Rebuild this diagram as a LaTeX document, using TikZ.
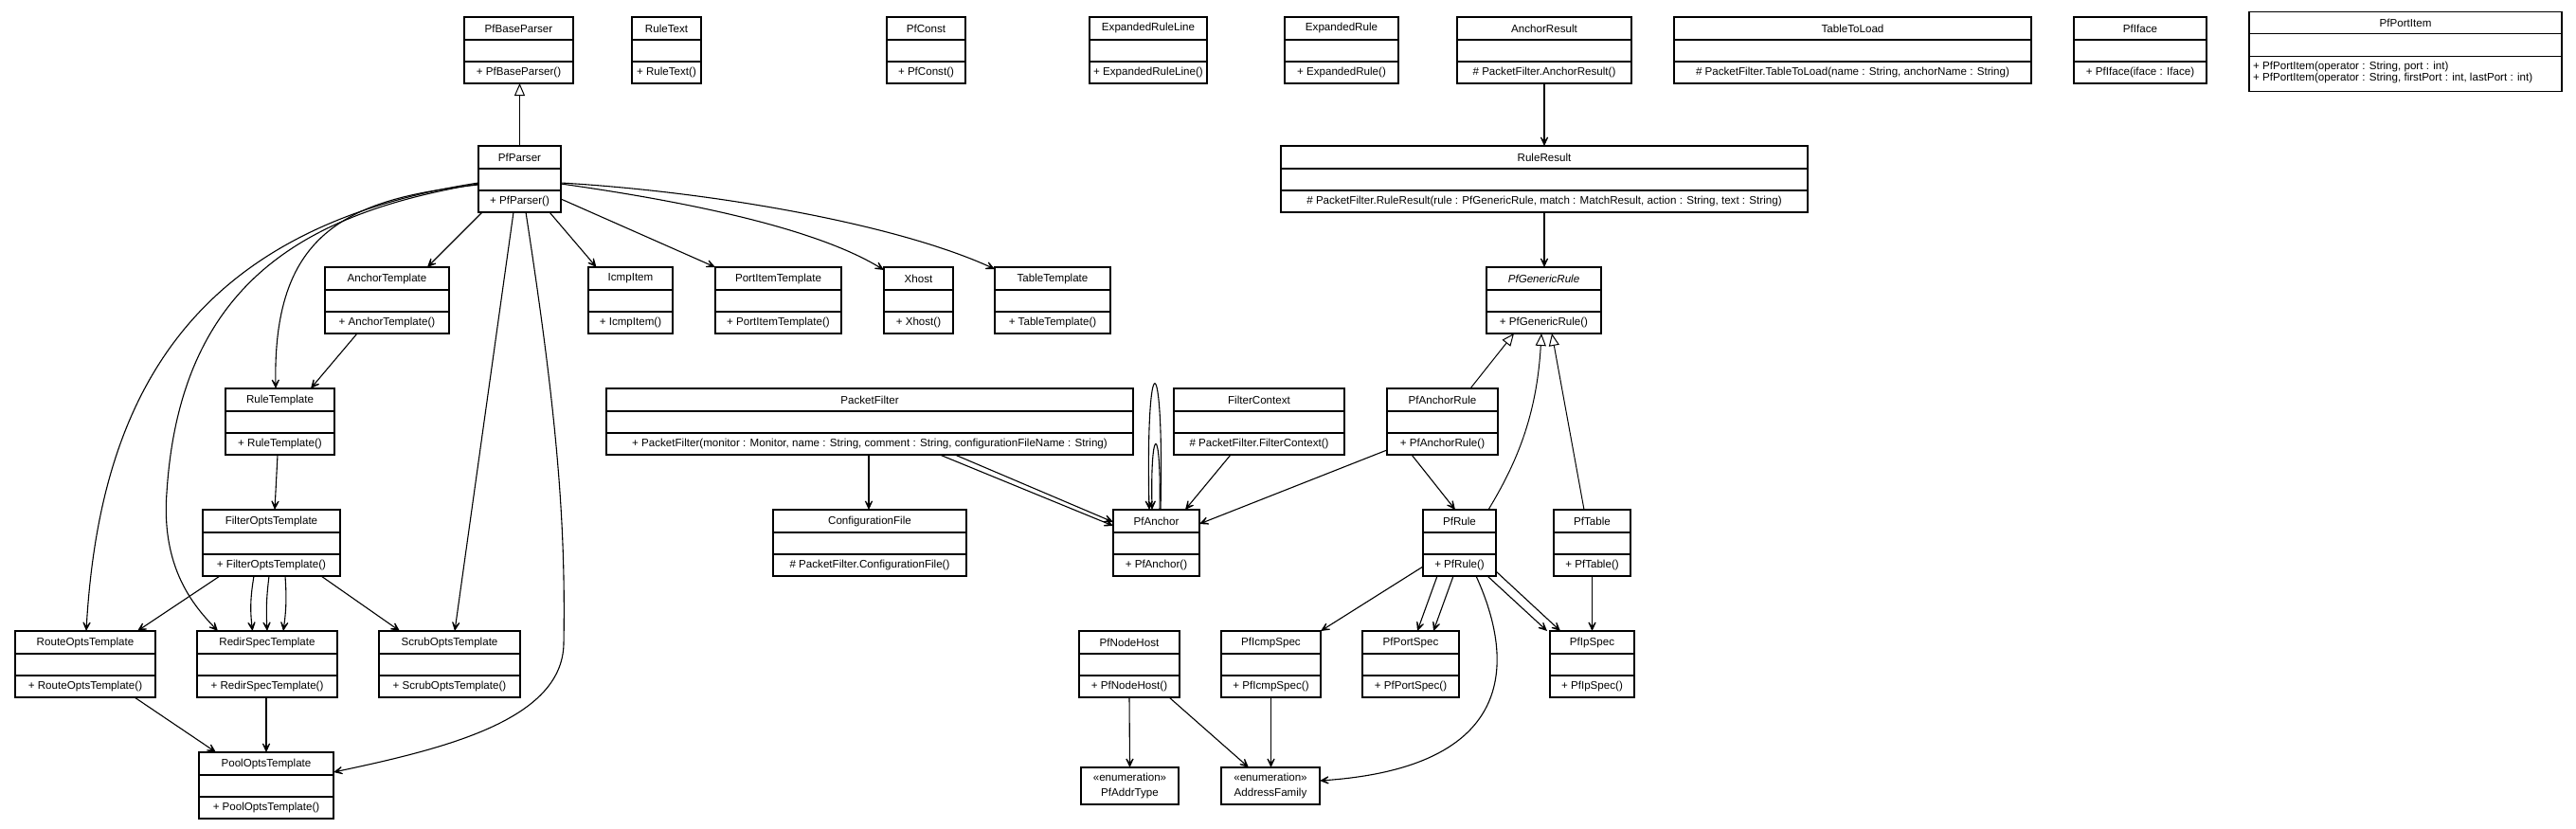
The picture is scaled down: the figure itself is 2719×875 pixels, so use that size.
\documentclass[tikz,border=0pt]{standalone}
\usepackage{fontspec}
\setmainfont{Liberation Sans}
\usetikzlibrary{arrows.meta}
\newcommand\clsfont{\fontsize{11.6}{13}\selectfont}
\tikzset{
  clsbox/.style={draw, line width=1.3pt, inner sep=0pt, outer sep=0pt, fill=white},
  clsline/.style={line width=1.1pt},
  clstext/.style={inner sep=0pt, font=\clsfont},
  assoc/.style={line width=1.1pt, -{Stealth[length=14pt,width=13pt,inset=9pt]}},
  gen/.style={line width=1pt, -{Triangle[open,length=13pt,width=11pt,fill=white]}},
}
% #1 name, #2 x, #3 y, #4 width, #5 title, #6 operation
\newcommand\umlcls[6]{%
  \node[clsbox, minimum width=#4pt, minimum height=70pt, anchor=north west] (#1) at (#2,#3) {};
  \draw[clsline] ([yshift=-24pt]#1.north west) -- ([yshift=-24pt]#1.north east);
  \draw[clsline] ([yshift=-47pt]#1.north west) -- ([yshift=-47pt]#1.north east);
  \node[clstext] (#1-title) at ([yshift=-12pt]#1.north) {#5};
  \node[clstext] (#1-op) at ([yshift=-58.5pt]#1.north) {#6};
}
\newcommand\umlenum[5]{%
  \node[clsbox, minimum width=#4pt, minimum height=39pt, anchor=north west] (#1) at (#2,#3) {};
  \node[clstext, align=center, font=\fontsize{11.6}{15.5}\selectfont] (#1-text) at (#1.center) {«enumeration»\\#5};
}
\begin{document}
\begin{tikzpicture}[x=1pt,y=-1pt]
\useasboundingbox (0,0) rectangle (2719,875);
% row 1
\umlcls{pfbaseparser}{490}{18}{115}{PfBaseParser}{+ PfBaseParser()}
\umlcls{ruletext}{667}{18}{73}{RuleText}{+ RuleText()}
\umlcls{pfconst}{936}{18}{83}{PfConst}{+ PfConst()}
\umlcls{expandedruleline}{1150}{18}{124}{ExpandedRuleLine}{+ ExpandedRuleLine()}
\umlcls{expandedrule}{1356}{18}{120}{ExpandedRule}{+ ExpandedRule()}
\umlcls{anchorresult}{1538}{18}{184}{AnchorResult}{\# PacketFilter.AnchorResult()}
\umlcls{tabletoload}{1767}{18}{377}{TableToLoad}{\# PacketFilter.TableToLoad(name : String, anchorName : String)}
\umlcls{pfiface}{2189}{18}{140}{PfIface}{+ PfIface(iface : Iface)}
% PfPortItem (two operations)
\node[clsbox, minimum width=330pt, minimum height=84pt, anchor=north west] (pfportitem) at (2374,12.7) {};
\draw[clsline] ([yshift=-22.6pt]pfportitem.north west) -- ([yshift=-22.6pt]pfportitem.north east);
\draw[clsline] ([yshift=-46.6pt]pfportitem.north west) -- ([yshift=-46.6pt]pfportitem.north east);
\node[clstext] (pfportitem-title) at ([yshift=-11.3pt]pfportitem.north) {PfPortItem};
\node[clstext, align=left, anchor=west, font=\fontsize{11.6}{12}\selectfont] (pfportitem-op) at ([xshift=4pt,yshift=-64pt]pfportitem.north west) {+ PfPortItem(operator : String, port : int)\\+ PfPortItem(operator : String, firstPort : int, lastPort : int)};
% row 2
\umlcls{pfparser}{505}{154}{87}{PfParser}{+ PfParser()}
\umlcls{ruleresult}{1352}{154}{556}{RuleResult}{\# PacketFilter.RuleResult(rule : PfGenericRule, match : MatchResult, action : String, text : String)}
% row 3
\umlcls{anchortemplate}{343}{282}{131}{AnchorTemplate}{+ AnchorTemplate()}
\umlcls{icmpitem}{621}{282}{89}{IcmpItem}{+ IcmpItem()}
\umlcls{portitemtemplate}{755}{282}{133}{PortItemTemplate}{+ PortItemTemplate()}
\umlcls{xhost}{933}{282}{73}{Xhost}{+ Xhost()}
\umlcls{tabletemplate}{1050}{282}{122}{TableTemplate}{+ TableTemplate()}
\umlcls{pfgenericrule}{1569}{282}{121}{\textit{PfGenericRule}}{+ PfGenericRule()}
% row 4
\umlcls{ruletemplate}{238}{410}{115}{RuleTemplate}{+ RuleTemplate()}
\umlcls{packetfilter}{640}{410}{556}{PacketFilter}{+ PacketFilter(monitor : Monitor, name : String, comment : String, configurationFileName : String)}
\umlcls{filtercontext}{1239}{410}{180}{FilterContext}{\# PacketFilter.FilterContext()}
\umlcls{pfanchorrule}{1464}{410}{117}{PfAnchorRule}{+ PfAnchorRule()}
% row 5
\umlcls{filteropts}{214}{538}{145}{FilterOptsTemplate}{+ FilterOptsTemplate()}
\umlcls{configfile}{816}{538}{204}{ConfigurationFile}{\# PacketFilter.ConfigurationFile()}
\umlcls{pfanchor}{1175}{538}{91}{PfAnchor}{+ PfAnchor()}
\umlcls{pfrule}{1502}{538}{77}{PfRule}{+ PfRule()}
\umlcls{pftable}{1640}{538}{81}{PfTable}{+ PfTable()}
% row 6
\umlcls{routeopts}{16}{666}{148}{RouteOptsTemplate}{+ RouteOptsTemplate()}
\umlcls{redirspec}{208}{666}{148}{RedirSpecTemplate}{+ RedirSpecTemplate()}
\umlcls{scrubopts}{400}{666}{149}{ScrubOptsTemplate}{+ ScrubOptsTemplate()}
\umlcls{pfnodehost}{1139}{666}{106}{PfNodeHost}{+ PfNodeHost()}
\umlcls{pficmpspec}{1289}{666}{105}{PfIcmpSpec}{+ PfIcmpSpec()}
\umlcls{pfportspec}{1438}{666}{102}{PfPortSpec}{+ PfPortSpec()}
\umlcls{pfipspec}{1636}{666}{89}{PfIpSpec}{+ PfIpSpec()}
% row 7
\umlcls{poolopts}{210}{794}{142}{PoolOptsTemplate}{+ PoolOptsTemplate()}
\umlenum{pfaddrtype}{1141}{810}{103}{PfAddrType}
\umlenum{addressfamily}{1289}{810}{104}{AddressFamily}

% generalizations
\draw[gen] (pfparser.north) -- (pfparser.north |- pfbaseparser.south);
\draw[gen] ([xshift=88pt]pfanchorrule.north west) -- ([xshift=29pt]pfgenericrule.south west);
\draw[gen] ([xshift=69pt]pfrule.north west) .. controls (1600,490) and (1622,440) .. ([xshift=58pt]pfgenericrule.south west);
\draw[gen] ([xshift=32pt]pftable.north west) -- ([xshift=69pt]pfgenericrule.south west);

% associations
\draw[assoc] (anchorresult.south) -- (anchorresult.south |- ruleresult.north);
\draw[assoc] (ruleresult.south) -- (ruleresult.south |- pfgenericrule.north);
\draw[assoc] ([xshift=4pt]pfparser.south west) -- ([xshift=108pt]anchortemplate.north west);
\draw[assoc] ([xshift=-12pt]pfparser.south east) -- ([xshift=8.5pt]icmpitem.north west);
\draw[assoc] ([yshift=-56pt]pfparser.north east) -- (portitemtemplate.north west);
\draw[assoc] ([yshift=-40pt]pfparser.north east) .. controls (720,212) and (860,240) .. ([yshift=-3pt]xhost.north west);
\draw[assoc] ([yshift=-39pt]pfparser.north east) .. controls (760,203) and (950,238) .. ([yshift=-2pt]tabletemplate.north west);
\draw[assoc] ([yshift=-41pt]pfparser.north west) .. controls (360,210) and (288,250) .. ([xshift=53pt]ruletemplate.north west);
\draw[assoc] ([yshift=-39pt]pfparser.north west) .. controls (200,240) and (105,420) .. ([xshift=75pt]routeopts.north west);
\draw[assoc] ([yshift=-40pt]pfparser.north west) .. controls (320,225) and (190,300) .. (176,520) .. controls (170,600) and (205,640) .. ([xshift=22pt]redirspec.north west);
\draw[assoc] ([xshift=37pt]pfparser.south west) -- ([xshift=80pt]scrubopts.north west);
\draw[assoc] ([xshift=50pt]pfparser.south west) .. controls (590,450) and (597,560) .. (595,680) .. controls (593,760) and (470,790) .. ([yshift=-21pt]poolopts.north east);
\draw[assoc] ([xshift=34pt]anchortemplate.south west) -- ([xshift=90pt]ruletemplate.north west);
\draw[assoc] ([xshift=55pt]ruletemplate.south west) -- ([xshift=76pt]filteropts.north west);
\draw[assoc] ([xshift=18pt]filteropts.south west) -- ([xshift=129pt]routeopts.north west);
\draw[assoc] ([xshift=54pt]filteropts.south west) to[bend right=8] ([xshift=58.5pt]redirspec.north west);
\draw[assoc] ([xshift=70pt]filteropts.south west) to[bend right=5] ([xshift=74pt]redirspec.north west);
\draw[assoc] ([xshift=87pt]filteropts.south west) to[bend left=6] ([xshift=91pt]redirspec.north west);
\draw[assoc] ([xshift=125pt]filteropts.south west) -- ([xshift=22pt]scrubopts.north west);
\draw[assoc] ([xshift=126pt]routeopts.south west) -- ([xshift=18pt]poolopts.north west);
\draw[assoc] ([xshift=73pt]redirspec.south west) -- ([xshift=71pt]poolopts.north west);
\draw[assoc] ([xshift=277pt]packetfilter.south west) -- ([xshift=101pt]configfile.north west);
\draw[assoc] ([xshift=352pt]packetfilter.south west) -- ([yshift=-17pt]pfanchor.north west);
\draw[assoc] ([xshift=368pt]packetfilter.south west) -- ([yshift=-13pt]pfanchor.north west);
\draw[assoc] ([xshift=60pt]filtercontext.south west) -- ([xshift=76pt]pfanchor.north west);
\draw[assoc] ([yshift=-65pt]pfanchorrule.north west) -- ([yshift=-15pt]pfanchor.north east);
\draw[assoc] ([xshift=50pt]pfanchor.north west) .. controls (1229,361) and (1209,361) .. ([xshift=38pt]pfanchor.north west);
\draw[assoc] ([xshift=49pt]pfanchor.north west) .. controls (1226,446) and (1214,446) .. ([xshift=41pt]pfanchor.north west);
\draw[assoc] ([xshift=26pt]pfanchorrule.south west) -- ([xshift=34pt]pfrule.north west);
\draw[assoc] ([yshift=-60pt]pfrule.north west) -- (pficmpspec.north east);
\draw[assoc] ([xshift=15pt]pfrule.south west) -- ([xshift=58pt]pfportspec.north west);
\draw[assoc] ([xshift=32pt]pfrule.south west) -- ([xshift=75pt]pfportspec.north west);
\draw[assoc] ([xshift=68pt]pfrule.south west) -- ([xshift=-3pt]pfipspec.north west);
\draw[assoc] ([yshift=-65pt]pfrule.north east) -- ([xshift=11pt]pfipspec.north west);
\draw[assoc] ([xshift=56pt]pfrule.south west) .. controls (1600,700) and (1600,810) .. ([yshift=-14pt]addressfamily.north east);
\draw[assoc] (pftable.south) -- (pftable.south |- pfipspec.north);
\draw[assoc] ([xshift=53pt]pfnodehost.south west) -- ([xshift=51.5pt]pfaddrtype.north west);
\draw[assoc] ([xshift=95pt]pfnodehost.south west) -- ([xshift=29pt]addressfamily.north west);
\draw[assoc] (pficmpspec.south) -- (pficmpspec.south |- addressfamily.north);
\end{tikzpicture}
\end{document}
